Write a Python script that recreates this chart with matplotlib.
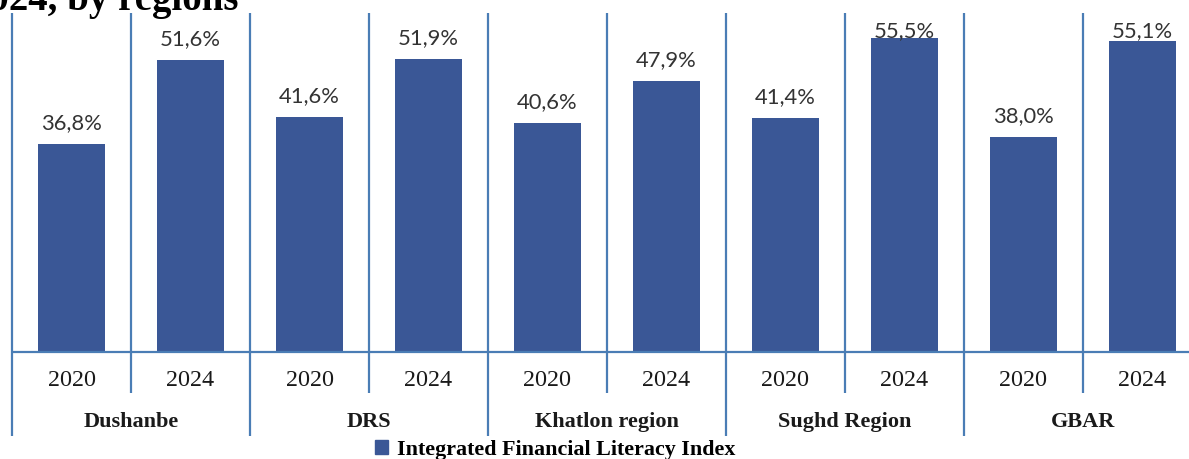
import matplotlib.pyplot as plt
from matplotlib.patches import Patch

# Integrated Financial Literacy Index, %, by region
regions = ["Dushanbe", "DRS", "Khatlon region", "Sughd Region", "GBAR"]
years = ["2020", "2024"]
index_2020 = [36.8, 41.6, 40.6, 41.4, 38.0]
index_2024 = [51.6, 51.9, 47.9, 55.5, 55.1]

bar_color = "#3a5796"
line_color = "#4a7db5"
serif = "Liberation Serif"

fig = plt.figure(figsize=(11.89, 4.59), dpi=100)
ax = fig.add_axes([0, 0, 1, 1])
ax.set_xlim(-0.601, 9.391)
ax.set_ylim(-18.94, 62.3)
ax.axis("off")

# one slot per (region, year); bars sit in slot centres
xs, vals, labels = [], [], []
for i, r in enumerate(regions):
    for j, v in enumerate([index_2020[i], index_2024[i]]):
        xs.append(2 * i + j)
        vals.append(v)
        labels.append(years[j])

ax.bar(xs, vals, width=0.563, color=bar_color, zorder=2)

# value labels, pulled down when they would run past the plot top
for x, v in zip(xs, vals):
    y = min(v + 3.7, 56.8)
    ax.text(x, y, f"{v:.1f}%".replace(".", ","), ha="center", va="center",
            fontsize=15.8, color="#333333", family="Lato")

# baseline and category separators
top = 60.0
ax.plot([-0.5, 9.391], [0, 0], color=line_color, lw=1.6, zorder=3,
        clip_on=False, solid_capstyle="butt")
for k in range(len(xs) + 1):
    b = k - 0.5
    bottom = -14.9 if k % 2 == 0 else -7.26
    ax.plot([b, b], [top, bottom], color=line_color, lw=1.6, zorder=3,
            clip_on=False, solid_capstyle="butt")

# year labels and region labels
for x, lab in zip(xs, labels):
    ax.text(x, -4.96, lab, ha="center", va="center", fontsize=17.4,
            family=serif, color="#1a1a1a")
for i, r in enumerate(regions):
    ax.text(2 * i + 0.5, -12.39, r, ha="center", va="center", fontsize=16,
            family=serif, fontweight="bold", color="#1a1a1a")

# title tail
fig.text(238 / 1189, 1 - 10 / 459, "2024, by regions", ha="right",
         va="baseline", fontsize=28, family=serif, fontweight="bold")

fig.legend(handles=[Patch(color=bar_color, label="Integrated Financial Literacy Index")],
           loc="center", bbox_to_anchor=(0.467, 0.0196), frameon=False,
           handlelength=0.6, handleheight=0.6, handletextpad=0.4,
           prop={"family": serif, "weight": "bold", "size": 15.8})

fig.savefig("out.png", dpi=100)
